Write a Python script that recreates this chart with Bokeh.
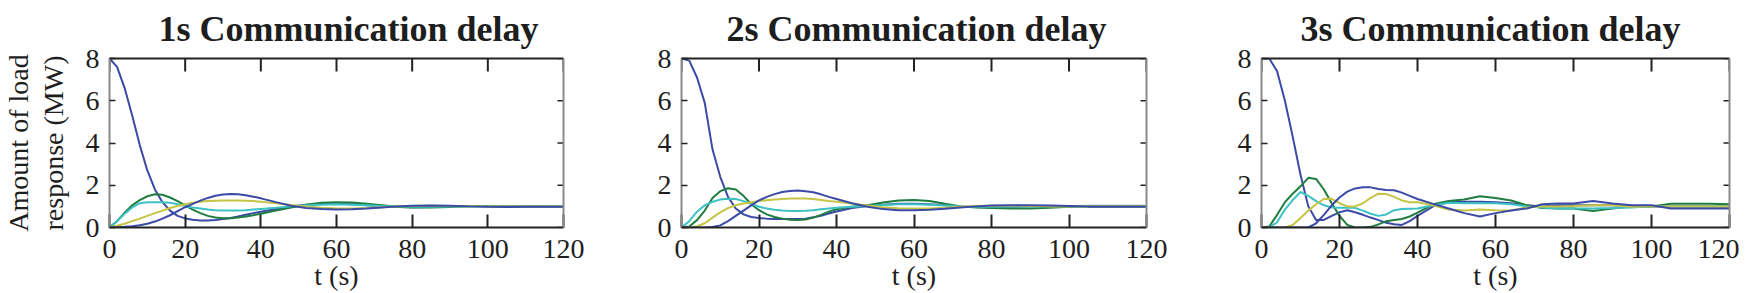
import math
from bokeh.plotting import figure
from bokeh.models import LinearAxis, Range1d, FixedTicker
from bokeh.layouts import row
from bokeh.embed import file_html
from bokeh.resources import INLINE

# ---------------- data ----------------
T = [0, 2, 4, 6, 8, 10, 12, 14, 16, 18, 20, 22, 24, 26, 28, 30, 32, 34, 36, 38, 40,
     44, 48, 52, 56, 60, 64, 68, 72, 76, 80, 85, 90, 95, 100, 105, 110, 115, 120]

titles = ["1s Communication delay", "2s Communication delay", "3s Communication delay"]
x_ticks = [0, 20, 40, 60, 80, 100, 120]
y_ticks = [0, 2, 4, 6, 8]
x_label = "t (s)"
y_label = "Amount of load\nresponse (MW)"

# 1 s delay
d1 = [8.0, 7.6, 6.6, 5.3, 3.9, 2.7, 1.8, 1.2, 0.8, 0.55, 0.43, 0.37, 0.33, 0.33, 0.36, 0.40, 0.45, 0.52, 0.60, 0.68, 0.75,
      0.88, 1.00, 1.08, 1.12, 1.12, 1.10, 1.05, 1.00, 0.97, 0.96, 0.97, 1.00, 1.02, 1.02, 1.00, 1.00, 0.99, 0.98]
g1 = [0, 0.3, 0.7, 1.05, 1.3, 1.48, 1.57, 1.55, 1.42, 1.25, 1.05, 0.85, 0.68, 0.55, 0.47, 0.44, 0.44, 0.47, 0.52, 0.58, 0.65,
      0.80, 0.95, 1.08, 1.17, 1.20, 1.18, 1.12, 1.05, 0.98, 0.95, 0.95, 0.97, 1.00, 1.02, 1.02, 1.00, 1.00, 1.00]
c1 = [0, 0.3, 0.65, 0.95, 1.15, 1.2, 1.2, 1.2, 1.17, 1.1, 1.02, 0.95, 0.9, 0.85, 0.82, 0.8, 0.8, 0.8, 0.82, 0.85, 0.88,
      0.93, 1.0, 1.05, 1.08, 1.1, 1.08, 1.05, 1.02, 1.0, 0.98, 0.98, 0.99, 1.0, 1.0, 1.0, 1.0, 1.0, 1.0]
y1 = [0, 0.08, 0.18, 0.3, 0.42, 0.55, 0.68, 0.8, 0.92, 1.02, 1.1, 1.17, 1.22, 1.25, 1.27, 1.28, 1.28, 1.28, 1.27, 1.25, 1.22,
      1.15, 1.07, 1.0, 0.94, 0.9, 0.9, 0.92, 0.96, 1.0, 1.02, 1.03, 1.02, 1.01, 1.0, 1.0, 1.0, 1.0, 1.0]
b1 = [0, 0.01, 0.03, 0.06, 0.11, 0.18, 0.28, 0.42, 0.58, 0.77, 0.96, 1.12, 1.27, 1.4, 1.5, 1.56, 1.58, 1.57, 1.53, 1.46, 1.38,
      1.2, 1.03, 0.92, 0.87, 0.85, 0.86, 0.9, 0.95, 1.0, 1.03, 1.04, 1.03, 1.0, 0.98, 0.97, 0.98, 0.98, 0.98]

# 2 s delay
d2 = [8.0, 7.9, 7.1, 5.9, 3.7, 2.4, 1.45, 0.9, 0.62, 0.5, 0.45, 0.42, 0.4, 0.4, 0.4, 0.4, 0.42, 0.48, 0.56, 0.66, 0.76,
      0.92, 1.02, 1.08, 1.12, 1.13, 1.1, 1.05, 1.0, 0.98, 0.97, 0.98, 1.0, 1.01, 1.01, 1.0, 1.0, 1.0, 1.0]
g2 = [0, 0.05, 0.35, 0.8, 1.4, 1.72, 1.86, 1.8, 1.5, 1.1, 0.82, 0.62, 0.5, 0.42, 0.37, 0.36, 0.38, 0.47, 0.6, 0.75, 0.86,
      0.98, 1.05, 1.18, 1.28, 1.3, 1.25, 1.12, 1.0, 0.95, 0.92, 0.9, 0.9, 0.93, 0.98, 1.0, 1.0, 1.0, 1.0]
c2 = [0, 0.3, 0.75, 1.05, 1.22, 1.32, 1.36, 1.35, 1.25, 1.12, 0.98, 0.9, 0.84, 0.8, 0.78, 0.78, 0.79, 0.82, 0.86, 0.9, 0.93,
      0.98, 1.02, 1.06, 1.1, 1.1, 1.08, 1.04, 1.0, 0.98, 0.98, 0.99, 1.0, 1.0, 1.01, 1.03, 1.03, 1.03, 1.03]
y2 = [0, 0, 0.05, 0.2, 0.47, 0.72, 0.92, 1.05, 1.14, 1.2, 1.25, 1.29, 1.32, 1.35, 1.37, 1.37, 1.37, 1.35, 1.3, 1.25, 1.22,
      1.14, 1.04, 0.96, 0.91, 0.9, 0.9, 0.93, 0.98, 1.02, 1.03, 1.03, 1.02, 1.0, 1.0, 1.02, 1.02, 1.02, 1.02]
b2 = [0, 0, 0, 0, 0.02, 0.1, 0.3, 0.55, 0.8, 1.05, 1.28, 1.45, 1.58, 1.68, 1.73, 1.75, 1.72, 1.67, 1.57, 1.45, 1.35,
      1.15, 0.98, 0.87, 0.82, 0.82, 0.84, 0.89, 0.95, 1.0, 1.04, 1.05, 1.05, 1.04, 1.02, 1.0, 1.0, 1.0, 1.0]

# 3 s delay
d3 = [8.0, 8.0, 7.4, 6.0, 4.3, 2.5, 1.0, 0.35, 0.36, 0.55, 0.72, 0.82, 0.72, 0.6, 0.47, 0.35, 0.22, 0.15, 0.12, 0.3, 0.55,
      1.0, 1.2, 1.22, 1.22, 1.2, 1.15, 1.05, 1.0, 1.05, 1.05, 1.05, 1.05, 1.0, 1.0, 1.0, 1.0, 1.0, 1.0]
g3 = [0, 0.05, 0.6, 1.2, 1.6, 1.95, 2.35, 2.3, 1.8, 1.15, 0.55, 0.12, 0, 0, 0.03, 0.15, 0.3, 0.36, 0.4, 0.52, 0.7,
      1.1, 1.25, 1.33, 1.48, 1.4, 1.28, 1.05, 0.92, 0.9, 0.9, 0.78, 0.9, 1.0, 1.0, 1.12, 1.12, 1.12, 1.1]
c3 = [0, 0, 0.25, 0.85, 1.3, 1.68, 1.5, 1.25, 1.05, 0.95, 0.93, 0.93, 0.93, 0.8, 0.65, 0.55, 0.62, 0.82, 0.88, 0.89, 0.9,
      1.05, 1.17, 1.15, 1.15, 1.15, 1.1, 1.0, 0.95, 0.9, 0.9, 0.9, 0.92, 0.95, 1.0, 1.0, 1.0, 1.0, 1.0]
y3 = [0, 0, 0, 0, 0.12, 0.45, 0.8, 1.1, 1.35, 1.36, 1.15, 1.0, 1.0, 1.15, 1.4, 1.6, 1.58, 1.45, 1.28, 1.2, 1.2,
      1.05, 0.85, 0.8, 0.85, 0.82, 0.8, 0.95, 1.0, 1.0, 1.02, 1.05, 1.05, 0.98, 1.0, 1.0, 1.0, 1.0, 1.0]
b3 = [0, 0, 0, 0, 0, 0, 0, 0.2, 0.6, 1.05, 1.42, 1.7, 1.85, 1.9, 1.9, 1.82, 1.78, 1.76, 1.65, 1.5, 1.35,
      1.12, 0.9, 0.68, 0.52, 0.68, 0.8, 0.9, 1.1, 1.14, 1.14, 1.25, 1.14, 1.05, 1.05, 0.9, 0.9, 0.9, 0.9]

panels = [[d1, g1, c1, y1, b1], [d2, g2, c2, y2, b2], [d3, g3, c3, y3, b3]]

# ---------------- style ----------------
FONT = "Liberation Serif"
TXT = "#1e1e1e"
DARK = "#222222"
GREY = "#8a8a8a"
BLUE = "#3b4aa6"
GREEN = "#1f7d3f"
CYAN = "#3cc2c4"
YELLOW = "#c6c444"
line_colors = [BLUE, GREEN, CYAN, YELLOW, BLUE]

H = 293
TOP = 58
BOTTOM = 64
layout_specs = [  # (width, left border, right border, title offset from frame left)
    (603, 102, 40, 49),
    (583, 78, 40, 45),
    (553, 75, 10, 39),
]


def edge_axis(color):
    ax = LinearAxis(ticker=FixedTicker(ticks=[]))
    ax.axis_line_color = color
    ax.axis_line_width = 2
    ax.major_tick_line_color = None
    ax.minor_tick_line_color = None
    ax.major_tick_in = 0
    ax.major_tick_out = 0
    ax.minor_tick_in = 0
    ax.minor_tick_out = 0
    ax.major_label_standoff = 0
    return ax


def make_panel(idx):
    width, left, right, toff = layout_specs[idx]
    p = figure(width=width, height=H,
               x_range=Range1d(x_ticks[0], x_ticks[-1]), y_range=Range1d(y_ticks[0], y_ticks[-1]),
               output_backend="svg", toolbar_location=None,
               x_axis_location=None, y_axis_location=None,
               min_border_left=left, min_border_right=right,
               min_border_top=TOP, min_border_bottom=BOTTOM)
    p.outline_line_color = None
    p.background_fill_color = "white"
    p.border_fill_color = "white"
    p.xgrid.visible = False
    p.ygrid.visible = False

    # left axis with labels
    la = LinearAxis(ticker=FixedTicker(ticks=y_ticks))
    la.major_tick_in = 6
    la.major_tick_out = 0
    la.minor_tick_line_color = None
    la.axis_line_color = GREY
    la.axis_line_width = 2
    la.major_tick_line_color = DARK
    la.major_tick_line_width = 1.5
    la.major_label_text_font = FONT
    la.major_label_text_font_size = "28px"
    la.major_label_text_color = TXT
    la.major_label_standoff = 10
    if idx == 0:
        la.axis_label = y_label
        la.axis_label_text_font = FONT
        la.axis_label_text_font_size = "28px"
        la.axis_label_text_font_style = "normal"
        la.axis_label_text_line_height = 1.1
        la.axis_label_text_color = TXT
        la.axis_label_standoff = 14
    p.add_layout(la, "left")

    # bottom axis with labels and the axis title
    ba = LinearAxis(ticker=FixedTicker(ticks=x_ticks))
    ba.major_tick_in = 13
    ba.major_tick_out = 0
    ba.minor_tick_line_color = None
    ba.axis_line_color = DARK
    ba.axis_line_width = 2
    ba.major_tick_line_color = DARK
    ba.major_tick_line_width = 2
    ba.major_label_text_font = FONT
    ba.major_label_text_font_size = "28px"
    ba.major_label_text_color = TXT
    ba.major_label_standoff = 12
    ba.axis_label = x_label
    ba.axis_label_text_font = FONT
    ba.axis_label_text_font_size = "28px"
    ba.axis_label_text_font_style = "normal"
    ba.axis_label_text_color = TXT
    try:
        ba.axis_label_standoff = -1
    except Exception:
        ba.axis_label_standoff = 0
    p.add_layout(ba, "below")

    # top and right frame lines
    p.add_layout(edge_axis(DARK), "above")
    p.add_layout(edge_axis(GREY), "right")

    # inward ticks on top and right edges (outer half of each dash is clipped by the frame)
    p.scatter(x=x_ticks, y=[y_ticks[-1]] * len(x_ticks), marker="dash", size=26,
              angle=math.pi / 2, line_color=DARK, line_width=2)
    p.scatter(x=[x_ticks[-1]] * len(y_ticks), y=y_ticks, marker="dash", size=12,
              line_color=DARK, line_width=1.5)

    p.title.text = titles[idx]
    p.title.text_font = FONT
    p.title.text_font_size = "36px"
    p.title.text_font_style = "bold"
    p.title.text_color = TXT
    p.title.align = "left"
    p.title.vertical_align = "top"
    p.title.offset = toff
    p.title.standoff = 16

    for vals, col in zip(panels[idx], line_colors):
        p.line(T, vals, line_color=col, line_width=2)
    return p


figs = [make_panel(i) for i in range(3)]
layout = row(*figs, spacing=0)
open("out.html", "w").write(file_html(layout, INLINE))
